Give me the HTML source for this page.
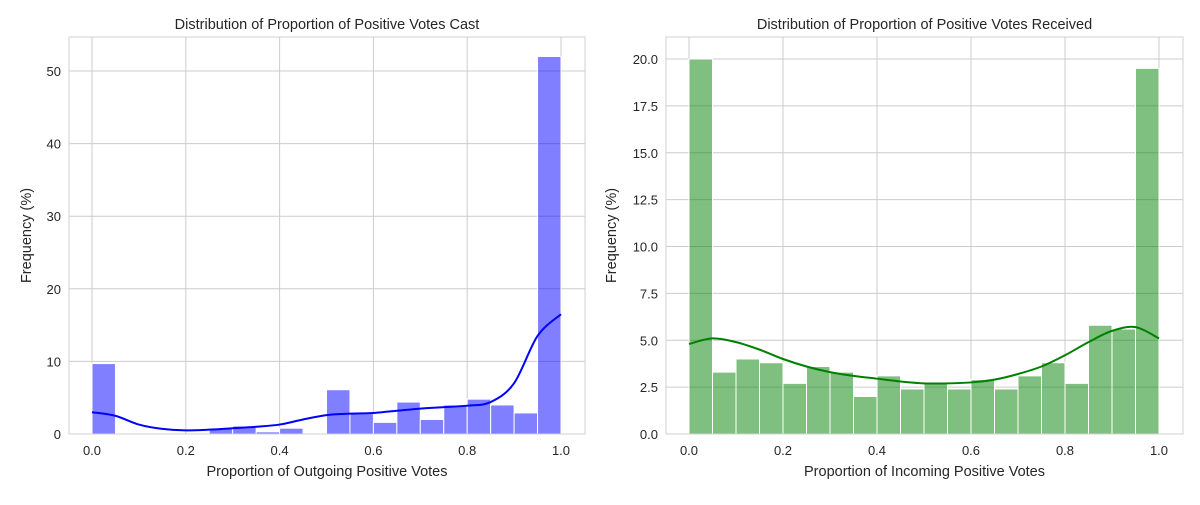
<!DOCTYPE html>
<html><head><meta charset="utf-8"><style>
body{margin:0;background:#fff;width:1200px;height:500px;overflow:hidden;font-family:"Liberation Sans",sans-serif}
</style></head><body>
<svg id="chart" width="1200" height="500"></svg>
<script>
const binEdgesCount = 20;
const xTicks = [0.0, 0.2, 0.4, 0.6, 0.8, 1.0];
const leftYTicks = [0, 10, 20, 30, 40, 50];
const rightYTicks = [0, 2.5, 5, 7.5, 10, 12.5, 15, 17.5, 20];
const leftBars = [9.7,0,0,0,0,0.7,1.1,0.3,0.8,0,6.1,2.8,1.6,4.4,2.0,4.0,4.8,4.0,2.9,52];
const rightBars = [20.0,3.3,4.0,3.8,2.7,3.6,3.3,2.0,3.1,2.4,2.7,2.4,2.9,2.4,3.1,3.8,2.7,5.8,5.6,19.5];
const kdeX = [0,0.05,0.1,0.15,0.2,0.25,0.3,0.35,0.4,0.45,0.5,0.55,0.6,0.65,0.7,0.75,0.8,0.85,0.9,0.95,1.0];
const leftKde = [3.0,2.5,1.3,0.7,0.5,0.6,0.8,1.0,1.3,2.0,2.6,2.8,2.9,3.2,3.5,3.7,3.9,4.4,7.0,13.5,16.5];
const rightKde = [4.8,5.1,4.9,4.5,4.0,3.6,3.3,3.1,2.95,2.8,2.7,2.7,2.75,2.9,3.2,3.6,4.2,4.9,5.5,5.7,5.1];

const NS="http://www.w3.org/2000/svg";
const svg=document.getElementById('chart');
function el(t,a,p){const e=document.createElementNS(NS,t);for(const k in a)e.setAttribute(k,a[k]);(p||svg).appendChild(e);return e;}

function panel(opt){
  const g=el('g',{});
  
  
  const L=opt.left,R=opt.right,T=37,B=434;
  const x=v=>opt.x0+(opt.x1-opt.x0)*v;
  const y=v=>B-(B-opt.yTop)*v/opt.yTopVal;
  opt.yTicks.forEach(t=>{
    const l=el('line',{x1:L,x2:R,y1:y(t),y2:y(t),stroke:'#cccccc','stroke-width':1},g);
    
    const tx=el('text',{x:L-8,y:y(t)+5,'text-anchor':'end','font-size':13,fill:'#262626'},g);
    tx.textContent=opt.fmtY(t);
    
  });
  xTicks.forEach(t=>{
    const l=el('line',{x1:x(t),x2:x(t),y1:T,y2:B,stroke:'#cccccc','stroke-width':1},g);
    
    const tx=el('text',{x:x(t),y:B+21,'text-anchor':'middle','font-size':13,fill:'#262626'},g);
    tx.textContent=t.toFixed(1);
    
  });
  const w=(opt.x1-opt.x0)/binEdgesCount;
  opt.bars.forEach((v,i)=>{
    if(v<=0)return;
    const r=el('rect',{x:x(i/binEdgesCount),y:y(v),width:w,height:B-y(v),fill:opt.fill,'fill-opacity':0.5,stroke:'#fff','stroke-width':1},g);
    
  });
  const pts=kdeX.map((k,i)=>[x(k),y(opt.kde[i])]);
  let d='M'+pts[0][0]+','+pts[0][1];
  for(let i=0;i<pts.length-1;i++){
    const p0=pts[i-1]||pts[i],p1=pts[i],p2=pts[i+1],p3=pts[i+2]||p2;
    d+=' C'+(p1[0]+(p2[0]-p0[0])/6)+','+(p1[1]+(p2[1]-p0[1])/6)+' '+(p2[0]-(p3[0]-p1[0])/6)+','+(p2[1]-(p3[1]-p1[1])/6)+' '+p2[0]+','+p2[1];
  }
  const k=el('path',{d:d,fill:'none',stroke:opt.line,'stroke-width':2},g);
  
  const f=el('rect',{x:L,y:T,width:R-L,height:B-T,fill:'none',stroke:'#d0d0d0','stroke-width':1},g);
  
  const ti=el('text',{x:(L+R)/2,y:T-8,'text-anchor':'middle','font-size':14.5,fill:'#262626'},g);
  ti.textContent=opt.title;
  const xl=el('text',{x:(L+R)/2,y:B+42,'text-anchor':'middle','font-size':14.5,fill:'#262626'},g);
  xl.textContent=opt.xlabel;
  const yx=opt.yLabelX;
  const yl=el('text',{x:yx,y:(T+B)/2,'text-anchor':'middle','font-size':14.5,fill:'#262626',transform:'rotate(-90 '+yx+' '+(T+B)/2+')'},g);
  yl.textContent='Frequency (%)';
}
panel({name:'outgoing-votes-panel',left:69,right:585,x0:92,x1:561,yTop:71,yTopVal:50,bars:leftBars,kde:leftKde,yTicks:leftYTicks,fmtY:t=>String(t),fill:'#0000ff',line:'#0000ff',title:'Distribution of Proportion of Positive Votes Cast',xlabel:'Proportion of Outgoing Positive Votes',yLabelX:31});
panel({name:'incoming-votes-panel',left:666,right:1183,x0:689,x1:1159,yTop:59,yTopVal:20,bars:rightBars,kde:rightKde,yTicks:rightYTicks,fmtY:t=>t.toFixed(1),fill:'#008000',line:'#008000',title:'Distribution of Proportion of Positive Votes Received',xlabel:'Proportion of Incoming Positive Votes',yLabelX:616});
</script>
</body></html>
